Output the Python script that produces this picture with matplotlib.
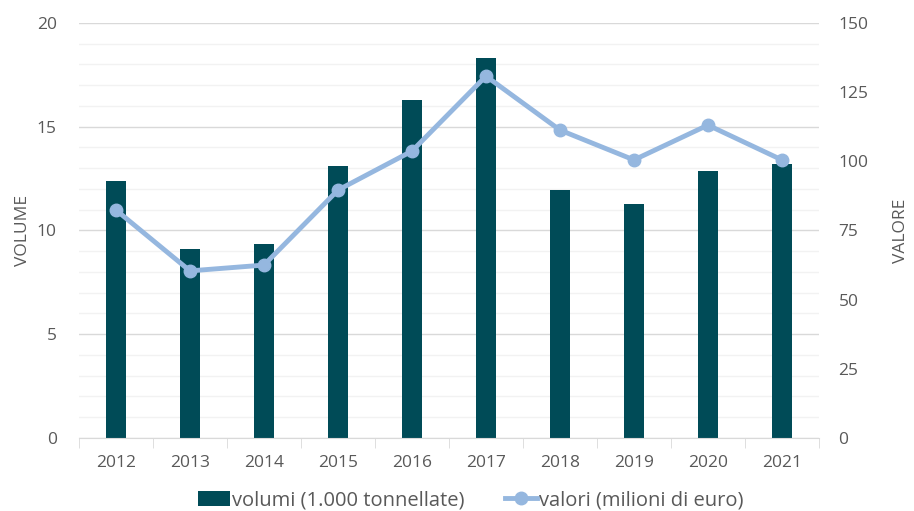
import numpy as np
import matplotlib.pyplot as plt
from matplotlib.ticker import MultipleLocator

plt.rcParams['font.family'] = ['Open Sans', 'DejaVu Sans']

anni = ['2012', '2013', '2014', '2015', '2016', '2017', '2018', '2019', '2020', '2021']
volumi = [12.4, 9.1, 9.35, 13.1, 16.3, 18.3, 11.95, 11.3, 12.85, 13.2]
valori = [82.4, 60.4, 62.5, 89.6, 103.7, 130.8, 111.3, 100.5, 113.1, 100.5]

bar_col = '#004b57'
line_col = '#95b7df'
txt_col = '#595959'
fs = 12.5

fig = plt.figure(figsize=(9.14, 5.11), dpi=100)
ax = fig.add_axes([0.0864, 0.1429, 0.8096, 0.8121])
x = np.arange(len(anni))

ax.set_ylim(0, 20)
ax.set_xlim(-0.5, len(anni) - 0.5)
ax.yaxis.set_major_locator(MultipleLocator(5))
ax.yaxis.set_minor_locator(MultipleLocator(1))
ax.grid(axis='y', which='minor', color='#f2f2f2', lw=1)
ax.grid(axis='y', which='major', color='#d9d9d9', lw=1)
ax.set_axisbelow(True)

bars = ax.bar(x, volumi, width=0.27, color=bar_col, zorder=2,
              label='volumi (1.000 tonnellate)')

ax2 = ax.twinx()
ax2.set_ylim(0, 150)
ax2.yaxis.set_major_locator(MultipleLocator(25))
ln, = ax2.plot(x, valori, color=line_col, lw=3.5, marker='o', ms=9,
               label='valori (milioni di euro)', zorder=3)

for a in (ax, ax2):
    for s in ('top', 'left', 'right', 'bottom'):
        a.spines[s].set_visible(False)
ax.spines['bottom'].set_visible(True)
ax.spines['bottom'].set_color('#d9d9d9')

ax.set_xticks(x)
ax.set_xticklabels(anni)
ax.set_xticks(np.arange(-0.5, len(anni)), minor=True)
ax.tick_params(axis='x', which='major', length=0, pad=12, labelsize=fs, labelcolor=txt_col)
ax.tick_params(axis='x', which='minor', length=7, color='#d9d9d9', direction='out')
ax.tick_params(axis='y', which='both', length=0, labelsize=fs, labelcolor=txt_col, pad=16)
ax2.tick_params(axis='y', length=0, labelsize=fs, labelcolor=txt_col, pad=14)

ax.set_ylabel('VOLUME', color=txt_col, fontsize=fs, labelpad=4)
ax2.set_ylabel('VALORE', color=txt_col, fontsize=fs, labelpad=18)

fig.legend(handles=[bars, ln], loc='lower center', bbox_to_anchor=(0.515, -0.035),
           ncol=2, frameon=False, fontsize=14.5, labelcolor=txt_col,
           handlelength=1.6, handleheight=0.8, handletextpad=0.1, columnspacing=2.0)

fig.savefig('out.png', dpi=100)
